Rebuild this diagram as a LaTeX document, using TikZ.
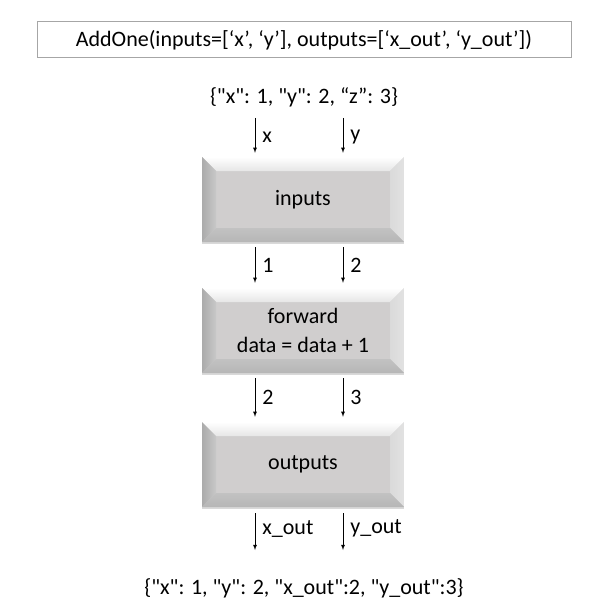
\documentclass[tikz,border=0pt]{standalone}
\usepackage{fontspec}
\newfontfamily\carlito{Carlito}
\usepackage{tikz}
\tikzset{>=latex}
\usetikzlibrary{calc}
\usetikzlibrary{positioning}
\usetikzlibrary{shadows}
\definecolor{boxface}{HTML}{D0CECE}
\definecolor{bevtop}{HTML}{E6E6E6}
\definecolor{bevleftA}{HTML}{ABABAB}
\definecolor{bevleftB}{HTML}{C8C8C8}
\definecolor{bevrightA}{HTML}{DADADA}
\definecolor{bevrightB}{HTML}{E2E2E2}
\definecolor{bevbotA}{HTML}{C2C2C2}
\definecolor{bevbotB}{HTML}{B6B6B6}
\definecolor{titleline}{HTML}{A6A6A6}
\newcommand{\bevw}{14pt}
\tikzset{
  bevelbox/.style={minimum width=202pt, minimum height=85pt, inner sep=0pt, align=center,
    fill=boxface, drop shadow={shadow xshift=0pt, shadow yshift=-2pt, opacity=0.3},
    path picture={
      \coordinate (nw) at (path picture bounding box.north west);
      \coordinate (ne) at (path picture bounding box.north east);
      \coordinate (sw) at (path picture bounding box.south west);
      \coordinate (se) at (path picture bounding box.south east);
      \shade[top color=white, bottom color=bevtop] (nw) -- (ne) -- ($(ne)+(-\bevw,-\bevw)$) -- ($(nw)+(\bevw,-\bevw)$) -- cycle;
      \shade[left color=bevleftA, right color=bevleftB] (nw) -- ($(nw)+(\bevw,-\bevw)$) -- ($(sw)+(\bevw,\bevw)$) -- (sw) -- cycle;
      \shade[left color=bevrightA, right color=bevrightB] (ne) -- (se) -- ($(se)+(-\bevw,\bevw)$) -- ($(ne)+(-\bevw,-\bevw)$) -- cycle;
      \shade[top color=bevbotA, bottom color=bevbotB] (sw) -- ($(sw)+(\bevw,\bevw)$) -- ($(se)+(-\bevw,\bevw)$) -- (se) -- cycle;
    }},
  flow/.style={->, line width=0.8pt},
  tag/.style={midway, right, inner sep=7pt}
}

\begin{document}
\begin{tikzpicture}[x=1pt, y=-1pt, font=\carlito\fontsize{22}{29}\selectfont]
  \useasboundingbox (0,0) rectangle (609,615);
  % header and data
  \node[draw=titleline, line width=1pt, minimum width=534pt, minimum height=36pt] (title) at (304,40) {AddOne(inputs=[‘x’, ‘y’], outputs=[‘x\_out’, ‘y\_out’])};
  \node (dictin) at (304,97) {\{"x": 1, "y": 2, “z”: 3\}};
  \node (dictout) at (304,588) {\{"x": 1, "y": 2, "x\_out":2, "y\_out":3\}};
  % stages
  \node[bevelbox] (inputs) at (303,199.5) {inputs};
  \node[bevelbox] (forward) at (303,330.5) {forward\\data = data + 1};
  \node[bevelbox] (outputs) at (303,464.5) {outputs};
  % arrows
  \coordinate (xin) at (255,118);
  \coordinate (yin) at (343,118);
  \coordinate (xend) at (255,550);
  \coordinate (yend) at (343,550);
  \draw[flow, shorten >=4pt] (xin) -- (xin |- inputs.north) node[tag] {x};
  \draw[flow, shorten >=4pt] (yin) -- (yin |- inputs.north) node[tag] {y};
  \draw[flow, shorten <=5pt, shorten >=5pt] (inputs.south -| xin) -- (forward.north -| xin) node[tag] {1};
  \draw[flow, shorten <=5pt, shorten >=5pt] (inputs.south -| yin) -- (forward.north -| yin) node[tag] {2};
  \draw[flow, shorten <=5pt, shorten >=5pt] (forward.south -| xin) -- (outputs.north -| xin) node[tag] {2};
  \draw[flow, shorten <=5pt, shorten >=5pt] (forward.south -| yin) -- (outputs.north -| yin) node[tag] {3};
  \draw[flow, shorten <=6pt] (outputs.south -| xend) -- (xend) node[tag] {x\_out};
  \draw[flow, shorten <=6pt] (outputs.south -| yend) -- (yend) node[tag] {y\_out};
\end{tikzpicture}
\end{document}
